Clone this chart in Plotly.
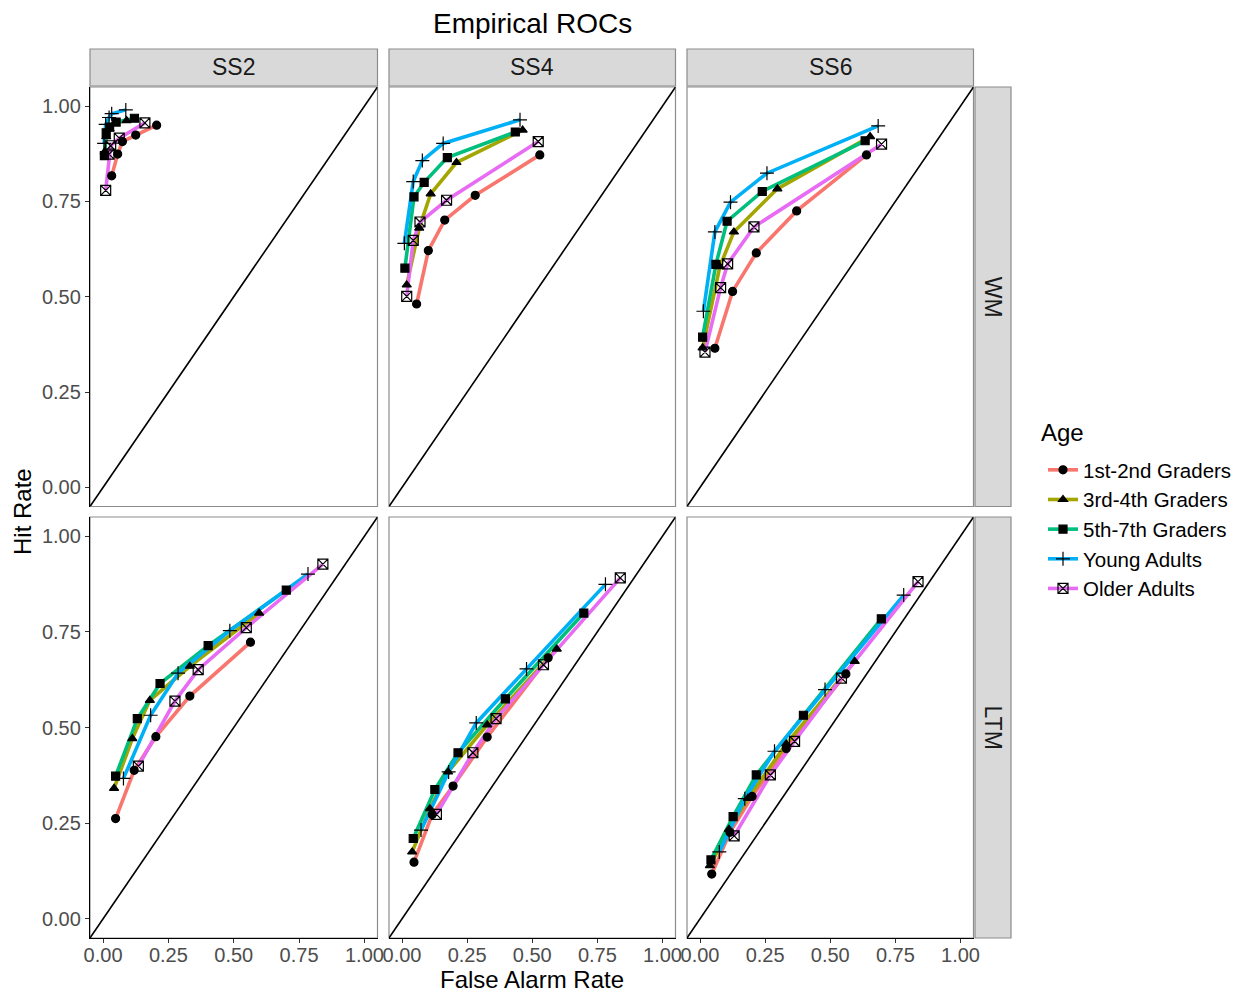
import plotly.graph_objects as go

AGES = ["1st-2nd Graders", "3rd-4th Graders", "5th-7th Graders", "Young Adults", "Older Adults"]
COLORS = ["#F8766D", "#A3A500", "#00BF7D", "#00B0F6", "#E76BF3"]
SYMBOLS = ["circle", "triangle-up", "square", "cross-thin-open", "square-x-open"]
SET_SIZES = ["SS2", "SS4", "SS6"]
TASKS = ["WM", "LTM"]
TICK_VALS = [0, 0.25, 0.5, 0.75, 1.0]
TICK_TEXT = ["0.00", "0.25", "0.50", "0.75", "1.00"]
AX_RANGE = [-0.05, 1.05]

# False alarm / hit rates per panel, one list per age group (ascending FA)
SS2_WM_FA = [
    [0.033, 0.056, 0.074, 0.125, 0.205],
    [0.006, 0.012, 0.025, 0.045, 0.090],
    [0.005, 0.012, 0.025, 0.050, 0.120],
    [0.004, 0.010, 0.023, 0.033, 0.087],
    [0.010, 0.023, 0.029, 0.062, 0.160],
]
SS2_WM_HIT = [
    [0.817, 0.874, 0.907, 0.924, 0.950],
    [0.880, 0.920, 0.940, 0.955, 0.962],
    [0.870, 0.930, 0.945, 0.958, 0.968],
    [0.902, 0.952, 0.970, 0.980, 0.990],
    [0.779, 0.874, 0.896, 0.916, 0.956],
]
SS4_WM_FA = [
    [0.056, 0.101, 0.164, 0.281, 0.529],
    [0.018, 0.066, 0.110, 0.209, 0.463],
    [0.011, 0.046, 0.085, 0.174, 0.435],
    [0.009, 0.043, 0.078, 0.158, 0.453],
    [0.018, 0.043, 0.069, 0.171, 0.523],
]
SS4_WM_HIT = [
    [0.481, 0.621, 0.701, 0.766, 0.872],
    [0.531, 0.680, 0.770, 0.852, 0.937],
    [0.575, 0.762, 0.800, 0.865, 0.932],
    [0.640, 0.802, 0.857, 0.902, 0.964],
    [0.501, 0.648, 0.696, 0.753, 0.907],
]
SS6_WM_FA = [
    [0.057, 0.125, 0.216, 0.371, 0.639],
    [0.010, 0.076, 0.130, 0.297, 0.653],
    [0.010, 0.061, 0.104, 0.239, 0.634],
    [0.013, 0.057, 0.117, 0.257, 0.684],
    [0.019, 0.079, 0.106, 0.207, 0.697],
]
SS6_WM_HIT = [
    [0.365, 0.514, 0.615, 0.725, 0.872],
    [0.366, 0.579, 0.670, 0.783, 0.920],
    [0.394, 0.585, 0.698, 0.776, 0.909],
    [0.462, 0.670, 0.748, 0.824, 0.948],
    [0.355, 0.524, 0.586, 0.683, 0.900],
]
SS2_LTM_FA = [
    [0.048, 0.119, 0.202, 0.332, 0.564],
    [0.042, 0.112, 0.179, 0.332, 0.597],
    [0.048, 0.131, 0.218, 0.402, 0.701],
    [0.078, 0.182, 0.287, 0.485, 0.784],
    [0.135, 0.275, 0.364, 0.548, 0.841],
]
SS2_LTM_HIT = [
    [0.262, 0.388, 0.476, 0.582, 0.723],
    [0.341, 0.471, 0.571, 0.660, 0.799],
    [0.373, 0.523, 0.615, 0.714, 0.859],
    [0.367, 0.532, 0.642, 0.753, 0.901],
    [0.399, 0.569, 0.651, 0.761, 0.927],
]
SS4_LTM_FA = [
    [0.046, 0.116, 0.196, 0.327, 0.561],
    [0.039, 0.107, 0.177, 0.327, 0.594],
    [0.043, 0.126, 0.215, 0.397, 0.698],
    [0.073, 0.179, 0.285, 0.478, 0.781],
    [0.132, 0.272, 0.361, 0.543, 0.838],
]
SS4_LTM_HIT = [
    [0.148, 0.273, 0.347, 0.475, 0.682],
    [0.175, 0.288, 0.384, 0.507, 0.705],
    [0.210, 0.338, 0.434, 0.575, 0.799],
    [0.232, 0.384, 0.512, 0.653, 0.874],
    [0.273, 0.434, 0.523, 0.664, 0.891],
]
SS6_LTM_FA = [
    [0.045, 0.115, 0.200, 0.331, 0.560],
    [0.038, 0.111, 0.184, 0.331, 0.594],
    [0.042, 0.127, 0.216, 0.397, 0.696],
    [0.074, 0.172, 0.286, 0.480, 0.782],
    [0.131, 0.270, 0.363, 0.543, 0.837],
]
SS6_LTM_HIT = [
    [0.117, 0.226, 0.320, 0.445, 0.640],
    [0.139, 0.234, 0.315, 0.457, 0.673],
    [0.154, 0.267, 0.376, 0.532, 0.784],
    [0.175, 0.314, 0.438, 0.599, 0.846],
    [0.217, 0.376, 0.464, 0.629, 0.881],
]

PANELS = [
    [(SS2_WM_FA, SS2_WM_HIT), (SS4_WM_FA, SS4_WM_HIT), (SS6_WM_FA, SS6_WM_HIT)],
    [(SS2_LTM_FA, SS2_LTM_HIT), (SS4_LTM_FA, SS4_LTM_HIT), (SS6_LTM_FA, SS6_LTM_HIT)],
]

W, H = 1242, 992
FONT = "Liberation Sans, Arial, sans-serif"
COL_PX = [(90, 377.5), (389, 675.5), (687, 973.5)]
ROW_PX = [(87, 506.5), (517, 938)]
STRIP_TOP_PX = (49, 86)
STRIP_RIGHT_PX = (975, 1011)
LINE_W = 3.6
TICK_SIZE = 20


def fx(px):
    return px / W


def fy(py):
    return 1 - py / H


def msize(g):
    return 8 if g < 3 else 10


fig = go.Figure()
layout = dict(
    width=W, height=H, margin=dict(l=0, r=0, t=0, b=0, autoexpand=False),
    paper_bgcolor="white", plot_bgcolor="white",
    font=dict(family=FONT, color="#000000"),
    showlegend=True,
)
shapes = []
annotations = []

for r in range(2):
    for c in range(3):
        idx = r * 3 + c + 1
        sfx = "" if idx == 1 else str(idx)
        xa, ya = "x" + sfx, "y" + sfx
        fa_lists, hit_lists = PANELS[r][c]
        for g in range(5):
            fig.add_trace(go.Scatter(
                x=fa_lists[g], y=hit_lists[g], mode="lines", xaxis=xa, yaxis=ya,
                line=dict(color=COLORS[g], width=LINE_W), showlegend=False, hoverinfo="skip"))
        for g in range(5):
            fig.add_trace(go.Scatter(
                x=fa_lists[g], y=hit_lists[g], mode="markers", xaxis=xa, yaxis=ya,
                marker=dict(symbol=SYMBOLS[g], size=msize(g), color="black",
                            line=dict(color="black", width=1.2)),
                showlegend=False, name=AGES[g]))
        x0p, x1p = COL_PX[c]
        y0p, y1p = ROW_PX[r]
        outer_x = (r == 1)
        outer_y = (c == 0)
        common = dict(range=AX_RANGE, tickvals=TICK_VALS, ticktext=TICK_TEXT,
                      ticklen=4, tickcolor="#333333", tickwidth=1,
                      showgrid=False, zeroline=False, linecolor="black",
                      linewidth=1.3, tickfont=dict(size=TICK_SIZE, color="#4d4d4d", family=FONT),
                      fixedrange=True, automargin=False)
        layout["xaxis" + sfx] = dict(domain=[fx(x0p), fx(x1p)], anchor=ya,
                                     showticklabels=outer_x, showline=outer_x,
                                     ticks="outside" if outer_x else "",
                                     ticklabelstandoff=-5, **common)
        layout["yaxis" + sfx] = dict(domain=[fy(y1p), fy(y0p)], anchor=xa,
                                     showticklabels=outer_y, showline=outer_y,
                                     ticks="outside" if outer_y else "", **common)
        shapes.append(dict(type="rect", xref="paper", yref="paper",
                           x0=fx(x0p), x1=fx(x1p), y0=fy(y1p), y1=fy(y0p),
                           line=dict(color="#8c8c8c", width=1.2), layer="below"))
        shapes.append(dict(type="line", xref=xa, yref=ya,
                           x0=AX_RANGE[0], y0=AX_RANGE[0], x1=AX_RANGE[1], y1=AX_RANGE[1],
                           line=dict(color="black", width=1.6), layer="below"))

for c, lab in enumerate(SET_SIZES):
    x0p, x1p = COL_PX[c]
    shapes.append(dict(type="rect", xref="paper", yref="paper",
                       x0=fx(x0p), x1=fx(x1p), y0=fy(STRIP_TOP_PX[1]), y1=fy(STRIP_TOP_PX[0]),
                       fillcolor="#d9d9d9", line=dict(color="#8c8c8c", width=1.2)))
    annotations.append(dict(text=lab, xref="paper", yref="paper",
                            x=fx((x0p + x1p) / 2), y=fy(sum(STRIP_TOP_PX) / 2),
                            showarrow=False, font=dict(size=23, color="#1a1a1a", family=FONT),
                            xanchor="center", yanchor="middle"))
for r, lab in enumerate(TASKS):
    y0p, y1p = ROW_PX[r]
    shapes.append(dict(type="rect", xref="paper", yref="paper",
                       x0=fx(STRIP_RIGHT_PX[0]), x1=fx(STRIP_RIGHT_PX[1]), y0=fy(y1p), y1=fy(y0p),
                       fillcolor="#d9d9d9", line=dict(color="#8c8c8c", width=1.2)))
    annotations.append(dict(text=lab, xref="paper", yref="paper",
                            x=fx(sum(STRIP_RIGHT_PX) / 2), y=fy((y0p + y1p) / 2),
                            showarrow=False, textangle=90,
                            font=dict(size=23, color="#1a1a1a", family=FONT),
                            xanchor="center", yanchor="middle"))

annotations.append(dict(text="Empirical ROCs", xref="paper", yref="paper",
                        x=fx(532), y=fy(24), showarrow=False,
                        font=dict(size=28, color="black", family=FONT),
                        xanchor="center", yanchor="middle"))
annotations.append(dict(text="False Alarm Rate", xref="paper", yref="paper",
                        x=fx(532), y=fy(979), showarrow=False,
                        font=dict(size=24, color="black", family=FONT),
                        xanchor="center", yanchor="middle"))
annotations.append(dict(text="Hit Rate", xref="paper", yref="paper",
                        x=fx(22), y=fy(512), showarrow=False, textangle=-90,
                        font=dict(size=24, color="black", family=FONT),
                        xanchor="center", yanchor="middle"))
annotations.append(dict(text="Age", xref="paper", yref="paper",
                        x=fx(1039), y=fy(432), showarrow=False,
                        font=dict(size=24, color="black", family=FONT),
                        xanchor="left", yanchor="middle"))

for g in range(5):
    fig.add_trace(go.Scatter(
        x=[None], y=[None], mode="lines+markers", name=AGES[g], legendgroup=AGES[g],
        line=dict(color=LINE_W and COLORS[g], width=LINE_W),
        marker=dict(symbol=SYMBOLS[g], size=msize(g), color="black",
                    line=dict(color="black", width=1.2)),
        showlegend=True))

layout["legend"] = dict(
    xref="container", yref="container",
    x=fx(1043), xanchor="left", y=fy(450), yanchor="top",
    font=dict(size=20.5, color="black", family=FONT),
    tracegroupgap=0, bgcolor="rgba(0,0,0,0)", itemwidth=30)
layout["shapes"] = shapes
layout["annotations"] = annotations
fig.update_layout(**layout)
fig.write_html("out.html", config={"displayModeBar": False},
               post_script="document.body.style.margin='0';")
